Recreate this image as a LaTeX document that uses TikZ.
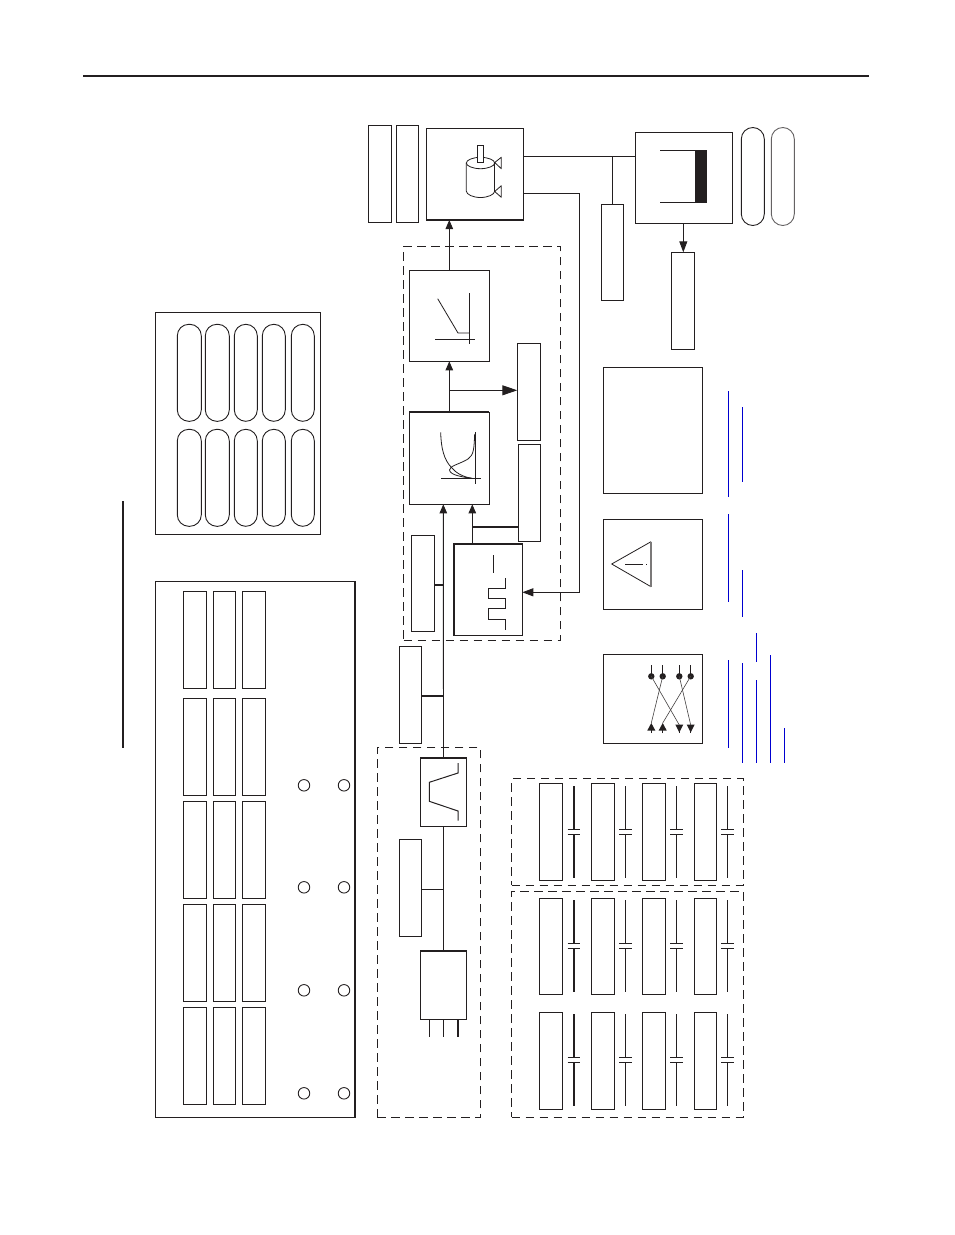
\documentclass[tikz,border=0pt]{standalone}
\usetikzlibrary{arrows.meta,calc}
\definecolor{ink}{HTML}{231F20}
\definecolor{bluebar}{HTML}{0000D0}
\tikzset{
  boxn/.style={draw=ink,line width=0.9pt,inner sep=0pt,outer sep=0pt,fill=white},
  oval/.style={boxn,rounded corners=11.5pt},
  line/.style={draw=ink,line width=0.9pt},
  heavy/.style={draw=ink,line width=1.8pt},
  dashbox/.style={draw=ink,line width=0.8pt,dash pattern=on 8.5pt off 5.5pt,inner sep=0pt,outer sep=0pt},
  arr/.style={line,-{Triangle[length=9pt,width=7.5pt]}},
  bigarr/.style={line,-{Triangle[length=15pt,width=10pt]}},
  bluebarline/.style={draw=bluebar,line width=1pt},
  icon/.style={draw=ink,line width=0.8pt},
  grayend/.style={draw=ink!60,line width=1.1pt},
}
\newcommand{\bx}[6][boxn]{\node[#1,anchor=north west,minimum width={(#5)*1pt-(#3)*1pt},minimum height={(#6)*1pt-(#4)*1pt}] (#2) at (#3,#4) {};}
\begin{document}
\begin{tikzpicture}[x=1pt,y=-1pt]
\useasboundingbox (0,0) rectangle (954,1235);
% header and side rule
\coordinate (hl) at (83,76); \coordinate (hr) at (868.5,76);
\draw[draw=ink,line width=2.8pt] (hl) -- (hr);
\coordinate (st) at (123,501); \coordinate (sbt) at (123,748);
\draw[draw=ink,line width=1.2pt] (st) -- (sbt);
% panel A
\bx{pa}{155.3}{312.3}{320.3}{534.3}
\foreach \n/\a/\b in {1/177.3/201.3,2/205.3/229.3,3/234.3/257.3,4/262.3/285.3,5/291.3/314.3}{
  \bx[oval]{ovt\n}{\a}{324.3}{\b}{421.3}
  \bx[oval]{ovb\n}{\a}{429.3}{\b}{526.3}
}
% panel B
\bx{pb}{155.3}{581.3}{355.3}{1117.3}
\draw[heavy] (pb.north east) -- (pb.south east);
\foreach \r/\t/\u in {1/591.3/688.3,2/698.3/795.3,3/801.3/898.3,4/904.3/1001.3,5/1007.3/1104.3}{
  \bx{pbl\r}{183.3}{\t}{206.3}{\u}
  \bx{pbm\r}{213.3}{\t}{235.7}{\u}
  \bx{pbr\r}{242.3}{\t}{265.7}{\u}
}
\foreach \r/\y in {1/785.3,2/887.3,3/990.3,4/1093.3}{
  \node[boxn,circle,minimum size=11.5pt] (ca\r) at (304,\y) {};
  \node[boxn,circle,minimum size=11.5pt] (cb\r) at (344,\y) {};
}
% dashed groups
\bx[dashbox]{dga}{403.5}{246.3}{560.5}{640.3}
\bx[dashbox]{dgb}{377.3}{747.3}{480.3}{1117.3}
\bx[dashbox]{dgc}{511.7}{778.7}{743.3}{885}
\bx[dashbox]{dgd}{511.7}{891.3}{743.3}{1117.3}
% top row
\bx{tl}{368.3}{125.3}{391.7}{222.3}
\bx{tr}{396.3}{125.3}{418.7}{222.3}
\bx{motor}{426.3}{128.3}{523.7}{220}
\draw[heavy] (motor.south west) -- (motor.south east);
\bx{brake}{635.3}{132.3}{732.3}{223.3}
\bx[oval]{ra}{741.3}{127.5}{764.3}{225.5}
\bx[oval,draw=ink!70]{rb}{771.3}{127.5}{794.3}{225.5}
\bx{hang}{601.3}{204.3}{623.3}{300.3}
\bx{under}{671.3}{252.3}{694.3}{349.3}
% servo chain
\bx{sa}{409.3}{270.3}{489.3}{361.3}
\bx{sb}{409.3}{412.3}{489.3}{504.3}
\draw[heavy] (sb.north west) -- (sb.north east);
\bx{sc}{453.7}{543.7}{522.3}{635.3}
\draw[heavy] (sc.south west) -- (sc.north west) -- (sc.north east);
\bx{rone}{517.3}{343.3}{540.3}{440.3}
\bx{rtwo}{518.3}{444.3}{540.3}{541.3}
\bx{rthree}{411.3}{535.3}{434.3}{631.3}
\bx{rfour}{399.3}{646.3}{421.7}{743.3}
\bx{filt}{420.3}{757.7}{466.7}{826}
\draw[heavy] (filt.north west) -- (filt.north east);
\bx{rfive}{399.3}{839.3}{421.7}{936.3}
\bx{psu}{420.3}{950.7}{466.7}{1019.3}
\draw[heavy] (psu.north west) -- (psu.north east);
% right column boxes
\bx{tbig}{603.3}{367.3}{702.3}{493.3}
\bx{ttri}{603.3}{519.3}{702.3}{609.3}
\bx{tcross}{603.3}{654.3}{702.3}{743.3}
\foreach \m in {tbig,ttri,tcross}{\draw[draw=ink,line width=1.5pt] (\m.north east) -- (\m.south east);}
% connectors
\draw[line] (psu.north) -- (filt.south);
\coordinate (tipb) at (443.3,504.3);
\draw[arr] (filt.north) -- (tipb);
\coordinate (tipc) at (472.3,504.3); \coordinate (scb) at (472.3,543.7);
\draw[arr] (scb) -- (tipc);
\draw[arr] (sb.north) -- (sa.south);
\draw[arr] (sa.north) -- (motor.south -| sa.north);
\coordinate (j1) at (449.3,390.3); \coordinate (e1) at (517.3,390.3);
\draw[bigarr] (j1) -- (e1);
\coordinate (j2) at (472.3,526.7); \coordinate (e2) at (518.3,526.7);
\draw[heavy] (j2) -- (e2);
\coordinate (e3) at (434.3,585); \coordinate (j3) at (443.3,585);
\draw[heavy] (e3) -- (j3);
\coordinate (e4) at (421.7,695.7); \coordinate (j4) at (443.3,695.7);
\draw[heavy] (e4) -- (j4);
\coordinate (e5) at (421.7,889.3); \coordinate (j5) at (443.3,889.3);
\draw[line] (e5) -- (j5);
\coordinate (m1) at (523.7,156.3); \coordinate (b1) at (635.3,156.3); \coordinate (j6) at (612.3,156.3);
\draw[line] (m1) -- (b1);
\draw[line] (j6) -- (hang.north);
\coordinate (m2) at (523.7,193.3); \coordinate (c2) at (579.3,193.3); \coordinate (c3) at (579.3,592.3); \coordinate (s3) at (522.3,592.3);
\draw[line,-{Triangle[length=11pt,width=8pt]}] (m2) -- (c2) -- (c3) -- (s3);
\coordinate (bk) at (683.3,223.3); \coordinate (un) at (683.3,252.3);
\draw[line,-{Triangle[length=11pt,width=8pt]}] (bk) -- (un);
\foreach \n/\x/\w in {a/429.3/0.9,b/443.3/0.9,c/458/1.8}{
  \coordinate (pt\n) at (\x,1019.3); \coordinate (pe\n) at (\x,1037);
  \draw[draw=ink,line width=\w pt] (pt\n) -- (pe\n);
}
% motor icon
\draw[icon] (466.3,163) -- (466.3,191) .. controls (466.3,194.5) and (473,197.5) .. (480.5,197.5) .. controls (488,197.5) and (494.7,194.5) .. (494.7,191);
\draw[icon,line width=1.3pt] (494.7,163) -- (494.7,191);
\draw[icon] (480.5,157.3) .. controls (488,157.3) and (494.7,160) .. (494.7,163) .. controls (494.7,166) and (488,168.7) .. (480.5,168.7) .. controls (473,168.7) and (466.3,166) .. (466.3,163) .. controls (466.3,160) and (473,157.3) .. (480.5,157.3) -- cycle;
\draw[icon,fill=white] (477.3,145.3) rectangle (483.3,162.7);
\draw[draw=ink,line width=1.3pt] (477.3,162.7) -- (483.3,162.7);
\draw[icon,line join=round] (494.7,162.5) -- (501.3,157.3) -- (501.3,168.7) -- cycle;
\draw[icon,line join=round] (494.7,191.5) -- (501.3,185.7) -- (501.3,197.3) -- cycle;
% brake icon
\draw[line] (660.3,150.2) -- (695,150.2);
\draw[line] (660.3,202.5) -- (695,202.5);
\fill[ink] (695,150) rectangle (707,202.8);
% sa icon
\draw[icon] (469.3,293) -- (469.3,344.3);
\draw[icon] (435.3,339.3) -- (474.7,339.3);
\draw[icon] (437.7,298.7) -- (458,333) -- (469.3,333);
% sb icon
\draw[icon] (475.3,432.3) -- (475.3,483.7);
\draw[icon] (441,478.3) -- (480.7,478.3);
\draw[icon] (440.7,432.3) .. controls (441,448) and (444,460) .. (451.5,467.5) .. controls (456,473) and (463,477) .. (472,478.3);
\draw[icon] (474.7,434) .. controls (474,448) and (474,455) .. (468,459) .. controls (460,464) and (449,466) .. (449.5,470) .. controls (450,475) and (462,477) .. (472,478.3);
% sc icon
\draw[icon] (493.3,555.3) -- (493.3,572.7);
\draw[icon] (505.3,578) -- (505.3,588.7) -- (488.3,588.7) -- (488.3,598.3) -- (505.3,598.3) -- (505.3,608.3) -- (488.3,608.3) -- (488.3,619.3) -- (505.3,619.3) -- (505.3,629.7);
% filter icon
\draw[icon,line width=1pt] (458,763) -- (458,773) -- (429.3,782.3) -- (429.3,801.3) -- (458,811) -- (458,820.7);
% triangle icon
\draw[icon] (651,541.7) -- (611.7,564) -- (651,586.7);
\draw[grayend] (651,541.7) -- (651,586.7);
\draw[icon] (625,564) -- (642.7,564);
\fill[ink] (646.2,563.6) rectangle (647.2,564.4);
% crossover icon
\foreach \x/\t in {651.3/a,662.7/b,679.3/c,690.7/d}{
  \coordinate (ct\t) at (\x,665); \coordinate (cd\t) at (\x,676.3);
  \coordinate (ce\t) at (\x,723); \coordinate (cf\t) at (\x,733);
  \draw[line] (ct\t) -- (cd\t);
  \fill[ink] (cd\t) circle (3.2);
}
\foreach \t in {a,b}{
  \draw[icon] (cf\t) -- ($(cf\t)+(0,-3)$);
  \fill[ink] (ce\t) -- ($(cf\t)+(4,-2.5)$) -- ($(cf\t)+(-4,-2.5)$) -- cycle;
}
\foreach \t in {c,d}{
  \draw[icon] (cf\t) -- ($(cf\t)+(0,-3)$);
  \fill[ink] ($(ce\t)+(4,1.5)$) -- ($(ce\t)+(-4,1.5)$) -- ($(cf\t)+(0,-0.5)$) -- cycle;
}
\draw[draw=ink!85,line width=0.6pt] (cda) -- ($(cec)+(0,2)$);
\draw[draw=ink!85,line width=0.6pt] (cdb) -- (cea);
\draw[draw=ink!85,line width=0.6pt] (cdc) -- ($(ced)+(0,2)$);
\draw[draw=ink!85,line width=0.6pt] (cdd) -- (ceb);
% capacitor groups
\foreach \g/\t/\u/\la/\lb/\pa/\pb in {c/783.3/880.3/786/878.3/829.3/834.3, d/898.3/994.3/900/991.7/943.3/948.3, e/1012.3/1109.3/1014/1106/1057.3/1062.3}{
  \bx{cr\g a}{539.3}{\t}{562.3}{\u}
  \bx{cr\g b}{591.3}{\t}{614.7}{\u}
  \bx{cr\g c}{642.3}{\t}{665.3}{\u}
  \bx{cr\g d}{694.3}{\t}{716.7}{\u}
  \foreach \k/\x/\w in {a/574/1.8,b/625.3/0.9,c/676.7/0.9,d/727.3/0.9}{
    \coordinate (la\g\k) at (\x,\la); \coordinate (pa\g\k) at (\x,\pa);
    \coordinate (pb\g\k) at (\x,\pb); \coordinate (lb\g\k) at (\x,\lb);
    \draw[draw=ink,line width=\w pt] (la\g\k) -- (pa\g\k);
    \draw[draw=ink,line width=\w pt] (pb\g\k) -- (lb\g\k);
    \draw[line] ($(pa\g\k)+(-6.3,0)$) -- ($(pa\g\k)+(6.3,0)$);
    \draw[line] ($(pb\g\k)+(-6.3,0)$) -- ($(pb\g\k)+(6.3,0)$);
  }
}
% blue bars
\foreach \n/\x/\a/\b in {1/728.3/391/497,2/742.3/407/482,3/728.3/514/601.7,4/742.3/570/616.7,5/756.3/633/661.7,6/770.3/655/762.7,7/728.3/660/747.7,8/742.3/663/762.7,9/756.3/680/762.7,10/784.3/728.3/762.7}{
  \coordinate (bt\n) at (\x,\a); \coordinate (bb\n) at (\x,\b);
  \draw[bluebarline] (bt\n) -- (bb\n);
}
\end{tikzpicture}
\end{document}
